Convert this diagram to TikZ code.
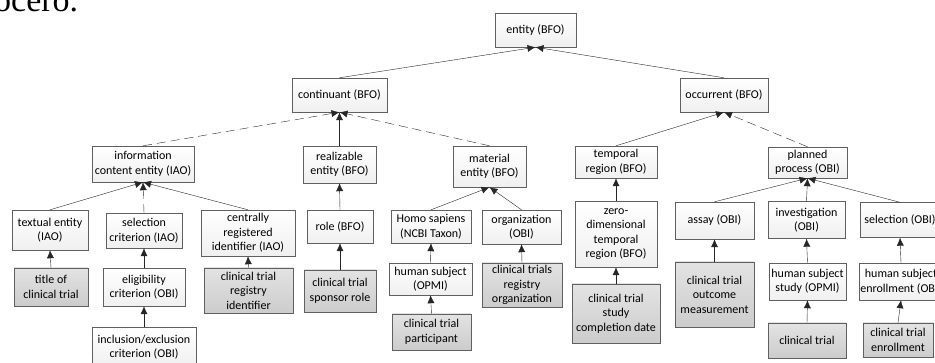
\documentclass[tikz,border=0pt]{standalone}
\usepackage{fontspec}
\setmainfont{Carlito}
\newfontfamily\pagefont{Liberation Serif}
\usetikzlibrary{arrows.meta,shadows}

\begin{document}
\begin{tikzpicture}[x=1pt,y=-1pt,
    class/.style={draw=gray!75!black, top color=white, bottom color=gray!12,
      align=center, inner sep=1pt, font=\fontsize{12}{14.5}\selectfont,
      drop shadow={shadow xshift=1pt, shadow yshift=-1pt, opacity=0.25}},
    instance/.style={class, top color=gray!22, bottom color=gray!40},
    wh/.style 2 args={minimum width=#1pt, minimum height=#2pt},
    isa/.style={draw=black!85, -{Latex[length=8pt,width=7pt]}},
    isadash/.style={isa, dash pattern=on 9pt off 5pt}]

    % Page size and the cut edge of the screenshot
    \useasboundingbox (0,0) rectangle (935,363);
    \clip (0,0) rectangle (935,363);
    \node[anchor=base west, inner sep=0pt, font=\pagefont\fontsize{34}{34}\selectfont] (pagetext) at (-6,12) {ocero.};

    % Upper classes
    \node[class, wh={81}{34}] (entity) at (535.5,30) {entity (BFO)};
    \node[class, wh={95}{34}] (continuant) at (339.5,95) {continuant (BFO)};
    \node[class, wh={88}{34}] (occurrent) at (724,95) {occurrent (BFO)};

    \node[class, wh={102}{36}] (info) at (143,164) {information\\content entity (IAO)};
    \node[class, wh={73}{37}] (realizable) at (339.5,164.5) {realizable\\entity (BFO)};
    \node[class, wh={73}{41}] (material) at (489.5,166.5) {material\\entity (BFO)};
    \node[class, wh={82}{32}] (temporal) at (616,162) {temporal\\region (BFO)};
    \node[class, wh={79}{31}] (planned) at (807.5,162.5) {planned\\process (OBI)};

    % Middle classes
    \node[class, wh={76}{40}] (textual) at (50,230) {textual entity\\(IAO)};
    \node[class, wh={76}{35}] (selcrit) at (144,230.5) {selection\\criterion (IAO)};
    \node[class, wh={94}{46}] (central) at (248,233) {centrally\\registered\\identifier (IAO)};
    \node[class, wh={66}{33}] (role) at (340,226.5) {role (BFO)};
    \node[class, wh={80}{33}] (homo) at (431,226.5) {Homo sapiens\\(NCBI Taxon)};
    \node[class, wh={79}{34}] (organization) at (521.5,227) {organization\\(OBI)};
    \node[class, wh={82}{66}] (zerodim) at (616,234) {zero-\\dimensional\\temporal\\region (BFO)};
    \node[class, wh={79}{37}] (assay) at (714.5,220.5) {assay (OBI)};
    \node[class, wh={77}{37}] (investigation) at (806.5,220) {investigation\\(OBI)};
    \node[class, wh={80}{35}] (selection) at (900,220) {selection (OBI)};

    % Lower classes
    \node[class, wh={82}{38}] (eligibility) at (144,287) {eligibility\\criterion (OBI)};
    \node[class, wh={104}{40}] (inclusion) at (144,347) {inclusion/exclusion\\criterion (OBI)};
    \node[class, wh={83}{32}] (humansubj) at (430.5,279) {human subject\\(OPMI)};
    \node[class, wh={77}{37}] (hsstudy) at (807.5,281.5) {human subject\\study (OPMI)};
    \node[class, wh={84}{37}] (hsenroll) at (901,281.5) {human subject\\enrollment (OBI)};

    % Clinical trial terms
    \node[instance, wh={74}{38}] (title) at (51,287) {title of\\clinical trial};
    \node[instance, wh={89}{45}] (registryid) at (248.5,290.5) {clinical trial\\registry\\identifier};
    \node[instance, wh={72}{42}] (sponsor) at (340,291) {clinical trial\\sponsor role};
    \node[instance, wh={79}{36}] (participant) at (431.5,332) {clinical trial\\participant};
    \node[instance, wh={80}{44}] (trialsorg) at (522,285) {clinical trials\\registry\\organization};
    \node[instance, wh={88}{59}] (completion) at (616,313.5) {clinical trial\\study\\completion date};
    \node[instance, wh={79}{65}] (outcome) at (714.5,294.5) {clinical trial\\outcome\\measurement};
    \node[instance, wh={78}{35}] (trial) at (807,340.5) {clinical trial};
    \node[instance, wh={70}{34}] (enrollment) at (898,340) {clinical trial\\enrollment};

    % Subclass links
    \draw[isa] (continuant.north) -- (entity.south);
    \draw[isa] (occurrent.north) -- (entity.south);
    \draw[isadash] (info.north) -- (continuant.south);
    \draw[isa] (realizable.north) -- (continuant.south);
    \draw[isadash] (material.north) -- (continuant.south);
    \draw[isa] (temporal.north) -- (occurrent.south);
    \draw[isadash] (planned.north) -- (occurrent.south);

    \draw[isa] (textual.north) -- (info.south);
    \draw[isadash] (selcrit.north) -- (info.south);
    \draw[isa] (central.north) -- (info.south);
    \draw[isa] (title.north) -- (textual.south);
    \draw[isa] (eligibility.north) -- (selcrit.south);
    \draw[isa] (inclusion.north) -- (eligibility.south);
    \draw[isa] (registryid.north) -- (central.south);

    \draw[isa] (role.north) -- (realizable.south);
    \draw[isa] (sponsor.north) -- (role.south);
    \draw[isa] (homo.north) -- (material.south);
    \draw[isa] (organization.north) -- (material.south);
    \draw[isa] (humansubj.north) -- (homo.south);
    \draw[isa] (participant.north) -- (humansubj.south);
    \draw[isa] (trialsorg.north) -- (organization.south);

    \draw[isa] (zerodim.north) -- (temporal.south);
    \draw[isa] (completion.north) -- (zerodim.south);
    \draw[isa] (assay.north) -- (planned.south);
    \draw[isa] (investigation.north) -- (planned.south);
    \draw[isa] (selection.north) -- (planned.south);
    \draw[isa] (outcome.north) -- (assay.south);
    \draw[isa] (hsstudy.north) -- (investigation.south);
    \draw[isa] (trial.north) -- (hsstudy.south);
    \draw[isa] (hsenroll.north) -- (selection.south);
    \draw[isa] (enrollment.north) -- (hsenroll.south);
\end{tikzpicture}
\end{document}
